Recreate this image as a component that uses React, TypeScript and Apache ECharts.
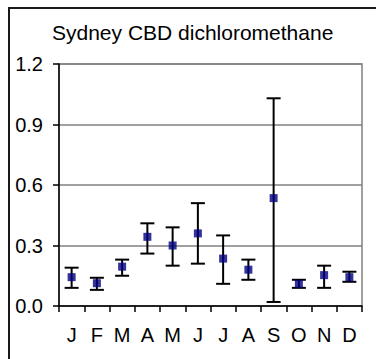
import React, { useEffect, useRef } from "react";
import * as echarts from "echarts";

const months = ["J", "F", "M", "A", "M", "J", "J", "A", "S", "O", "N", "D"];
const means = [0.143, 0.113, 0.195, 0.343, 0.3, 0.36, 0.235, 0.18, 0.535, 0.11, 0.153, 0.143];
const upper = [0.19, 0.14, 0.23, 0.41, 0.39, 0.51, 0.35, 0.23, 1.03, 0.13, 0.2, 0.17];
const lower = [0.09, 0.08, 0.15, 0.26, 0.2, 0.21, 0.11, 0.13, 0.02, 0.09, 0.09, 0.12];
const yTicks = [0, 0.3, 0.6, 0.9, 1.2];
const titleText = "Sydney CBD dichloromethane";

const FONT = "Liberation Sans, Arial, sans-serif";

export default function App() {
  const ref = useRef<HTMLDivElement>(null);
  useEffect(() => {
    if (!ref.current) return;
    const chart = echarts.init(ref.current, null, { renderer: "svg" });
    const errData = months.map((_, i) => [i, lower[i], upper[i]]);
    chart.setOption({
      animation: false,
      backgroundColor: "#ffffff",
      title: {
        text: titleText,
        left: 52,
        top: 22,
        padding: 0,
        textStyle: { fontFamily: FONT, fontSize: 21, fontWeight: "normal", color: "#000" },
      },
      graphic: [
        {
          type: "rect",
          shape: { x: 9, y: 8, width: 420, height: 420 },
          style: { fill: "none", stroke: "#1a1a1a", lineWidth: 2 },
          silent: true,
        },
      ],
      grid: {
        left: 59,
        right: 14,
        top: 64,
        bottom: 53,
        show: true,
        borderColor: "#808080",
        borderWidth: 1.5,
        backgroundColor: "transparent",
      },
      xAxis: {
        type: "category",
        data: months,
        boundaryGap: true,
        axisLine: { lineStyle: { color: "#000", width: 1.5 } },
        axisTick: { show: true, interval: 0, length: 6, lineStyle: { color: "#000", width: 1.5 } },
        axisLabel: { interval: 0, margin: 19, fontFamily: FONT, fontSize: 20, color: "#000" },
        splitLine: { show: false },
      },
      yAxis: {
        type: "value",
        min: yTicks[0],
        max: yTicks[yTicks.length - 1],
        interval: 0.3,
        axisLine: { show: true, lineStyle: { color: "#000", width: 1.5 } },
        axisTick: { show: true, length: 6, lineStyle: { color: "#000", width: 1.5 } },
        axisLabel: {
          margin: 16,
          fontFamily: FONT,
          fontSize: 20,
          color: "#000",
          formatter: (v: number) => v.toFixed(1),
        },
        splitLine: { show: true, lineStyle: { color: "#808080", width: 1.5 } },
      },
      series: [
        {
          type: "custom",
          data: errData,
          z: 2,
          renderItem: (params: any, api: any) => {
            const x = api.value(0);
            const lo = api.coord([x, api.value(1)]);
            const hi = api.coord([x, api.value(2)]);
            const half = 7;
            const st = { stroke: "#000", lineWidth: 2 };
            return {
              type: "group",
              children: [
                { type: "line", shape: { x1: hi[0], y1: hi[1], x2: lo[0], y2: lo[1] }, style: st },
                { type: "line", shape: { x1: hi[0] - half, y1: hi[1], x2: hi[0] + half, y2: hi[1] }, style: st },
                { type: "line", shape: { x1: lo[0] - half, y1: lo[1], x2: lo[0] + half, y2: lo[1] }, style: st },
              ],
            };
          },
        },
        {
          type: "scatter",
          data: means.map((v, i) => [i, v]),
          symbol: "rect",
          symbolSize: 8,
          itemStyle: { color: "#000080" },
          z: 3,
        },
      ],
    });
    return () => chart.dispose();
  }, []);
  return (
    <div
      ref={ref}
      style={{ position: "fixed", left: 0, top: 0, width: 376, height: 359 }}
    />
  );
}
